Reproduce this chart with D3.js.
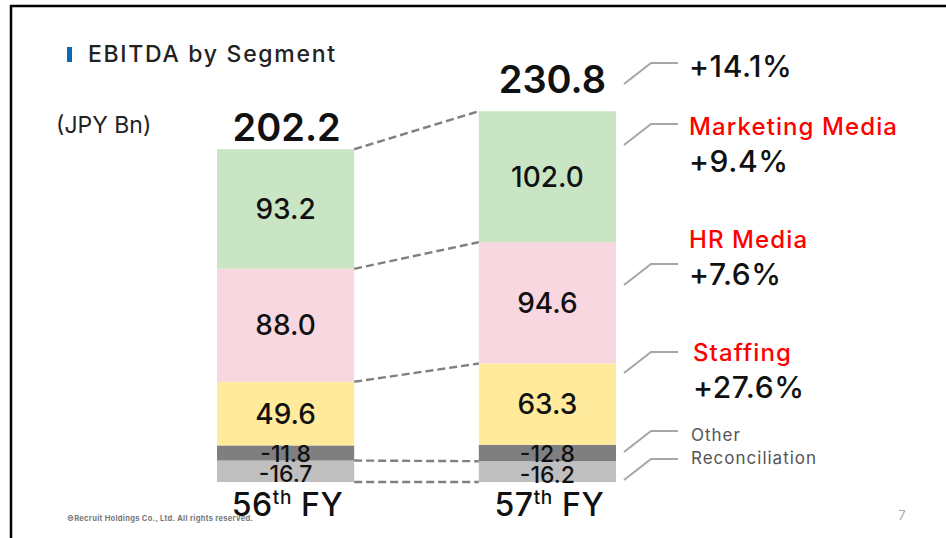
<!DOCTYPE html>
<html>
<head>
<meta charset="utf-8">
<script src="https://cdn.jsdelivr.net/npm/d3@7"></script>
<style>
  body { margin: 0; background: #fff; }
  svg { display: block; font-family: Inter, "Noto Sans", sans-serif; }
</style>
</head>
<body>
<svg id="chart" width="946" height="538"></svg>
<script>
(function(){

  // data (JPY Bn)
  var years = ["56th FY", "57th FY"];
  var segments = ["Reconciliation", "Other", "Staffing", "HR Media", "Marketing Media"];
  var fy56 = [-16.7, -11.8, 49.6, 88.0, 93.2];
  var fy57 = [-16.2, -12.8, 63.3, 94.6, 102.0];
  var totals = [202.2, 230.8];
  var growthTotal = "+14.1%";
  var growth = ["", "", "+27.6%", "+7.6%", "+9.4%"];

  var colors = ["#bfbfbf", "#7f7f7f", "#ffeb9b", "#f9d7e0", "#c9e5c4"];

  var svg = d3.select("#chart");

  // frame of the slide
  svg.append("line").attr("x1", 10).attr("x2", 946).attr("y1", 6).attr("y2", 6)
    .attr("stroke", "#000").attr("stroke-width", 2.5);
  svg.append("line").attr("x1", 11).attr("x2", 11).attr("y1", 5).attr("y2", 538)
    .attr("stroke", "#000").attr("stroke-width", 2.5);

  // title
  svg.append("rect").attr("x", 67).attr("y", 47).attr("width", 5).attr("height", 15).attr("fill", "#0a6ab5");
  svg.append("text").attr("x", 88).attr("y", 62)
    .attr("font-size", 23).attr("font-weight", 500).attr("letter-spacing", 1.7).attr("fill", "#222")
    .text("EBITDA by Segment");
  svg.append("text").attr("x", 56).attr("y", 133)
    .attr("font-size", 23).attr("fill", "#222")
    .text("(JPY Bn)");

  var rows = years.map(function(y, i){
    var vals = i == 0 ? fy56 : fy57;
    var o = {year: y, total: totals[i]};
    segments.forEach(function(s, j){ o[s] = vals[j]; });
    return o;
  });

  var stack = d3.stack()
    .keys(segments)
    .value(function(d, k){ return Math.abs(d[k]); });
  var series = stack(rows);

  var x = d3.scaleBand()
    .domain(years)
    .range([217, 616])
    .paddingInner(0.476)
    .paddingOuter(0);

  var y = d3.scaleLinear()
    .domain([0, 300])
    .range([482, 97]);

  // segments
  var g = svg.append("g");
  series.forEach(function(s, j){
    g.selectAll(null)
      .data(s)
      .enter()
      .append("rect")
      .attr("x", function(d){ return x(d.data.year); })
      .attr("y", function(d){ return y(d[1]); })
      .attr("width", x.bandwidth())
      .attr("height", function(d){ return y(d[0]) - y(d[1]); })
      .attr("fill", colors[j]);
  });

  // dashed connectors between the bars (no line on the Staffing / Other edge)
  var joinKeys = ["base", "Reconciliation", "Staffing", "HR Media", "Marketing Media"];
  joinKeys.forEach(function(k){
    var j = segments.indexOf(k);
    var a = k == "base" ? 0 : series[j][0][1];
    var b = k == "base" ? 0 : series[j][1][1];
    svg.append("line")
      .attr("x1", x(years[0]) + x.bandwidth()).attr("y1", y(a))
      .attr("x2", x(years[1])).attr("y2", y(b))
      .attr("stroke", "#808080").attr("stroke-width", 2.4)
      .attr("stroke-dasharray", "8,4");
  });

  // value labels inside segments
  series.forEach(function(s, j){
    var small = Math.abs(s[0].data[segments[j]]) < 20;
    g.selectAll(null)
      .data(s)
      .enter()
      .append("text")
      .attr("x", function(d){ return x(d.data.year) + x.bandwidth() / 2; })
      .attr("y", function(d){ return (y(d[0]) + y(d[1])) / 2 + (small ? (j == 0 ? 3 : 1) : 0); })
      .attr("text-anchor", "middle")
      .attr("dominant-baseline", "central")
      .attr("font-size", small ? 23 : 28)
      .attr("font-weight", 500)
      .attr("fill", "#111")
      .text(function(d){ return d.data[segments[j]].toFixed(1); });
  });

  // totals on top of each bar
  var top = series[series.length - 1];
  var totalGap = [8, 18];
  var totalShift = [1, 5];
  svg.selectAll(".total")
    .data(rows)
    .enter()
    .append("text")
    .attr("class", "total")
    .attr("x", function(d, i){ return x(d.year) + x.bandwidth() / 2 + totalShift[i]; })
    .attr("y", function(d, i){ return y(top[i][1]) - totalGap[i]; })
    .attr("text-anchor", "middle")
    .attr("font-size", 38)
    .attr("font-weight", 600)
    .attr("fill", "#111")
    .text(function(d){ return d.total.toFixed(1); });

  // year labels with superscript
  years.forEach(function(yr){
    var t = svg.append("text")
      .attr("x", x(yr) + x.bandwidth() / 2 + 2)
      .attr("y", 516)
      .attr("text-anchor", "middle")
      .attr("font-size", 32)
      .attr("font-weight", 500)
      .attr("letter-spacing", 0.6)
      .attr("fill", "#111");
    t.append("tspan").text(yr.slice(0, 2));
    t.append("tspan").attr("font-size", 19).attr("dy", -12).text(yr.slice(2, 4));
    t.append("tspan").attr("dy", 12).text(" " + yr.slice(5));
  });

  // annotations on the right
  var lx = x(years[1]) + x.bandwidth();
  var notes = [
    {label: "", pct: growthTotal, ly: 84, ty: 77},
    {label: segments[4], pct: growth[4], ly: 145, ty: 135},
    {label: segments[3], pct: growth[3], ly: 285, ty: 248},
    {label: segments[2], pct: growth[2], ly: 373, ty: 361},
    {label: segments[1], pct: "", ly: 452, ty: 441},
    {label: segments[0], pct: "", ly: 480, ty: 464}
  ];

  notes.forEach(function(n){
    var x0 = lx + 8;
    var p = d3.path();
    p.moveTo(x0, n.ly);
    p.lineTo(x0 + 27, n.ly - 21);
    p.lineTo(x0 + 54, n.ly - 21);
    svg.append("path").attr("d", p.toString())
      .attr("fill", "none").attr("stroke", "#a6a6a6").attr("stroke-width", 2);

    var tx = n.label == "Staffing" ? 693 : 689;
    if (n.label == "Other" || n.label == "Reconciliation") {
      svg.append("text").attr("x", 691).attr("y", n.ty)
        .attr("font-size", 17).attr("letter-spacing", 1).attr("fill", "#555")
        .text(n.label);
    } else if (n.label == "") {
      svg.append("text").attr("x", tx).attr("y", n.ty)
        .attr("font-size", 30).attr("font-weight", 500).attr("letter-spacing", 0.6).attr("fill", "#111")
        .text(n.pct);
    } else {
      svg.append("text").attr("x", tx).attr("y", n.ty)
        .attr("font-size", 24).attr("font-weight", 500).attr("letter-spacing", 1.1).attr("fill", "#ff0000")
        .text(n.label);
      svg.append("text").attr("x", tx).attr("y", n.ty + 37)
        .attr("font-size", 30).attr("font-weight", 500).attr("letter-spacing", 0.6).attr("fill", "#111")
        .text(n.pct);
    }
  });

  // footer
  svg.append("text").attr("x", 67).attr("y", 521)
    .attr("font-size", 7.5).attr("font-weight", 700).attr("fill", "#777")
    .attr("textLength", 186).attr("lengthAdjust", "spacing")
    .text("\u00a9Recruit Holdings Co., Ltd. All rights reserved.");
  svg.append("text").attr("x", 902).attr("y", 520)
    .attr("text-anchor", "middle").attr("font-size", 13).attr("fill", "#aaa")
    .text("7");

})();
</script>
</body>
</html>
